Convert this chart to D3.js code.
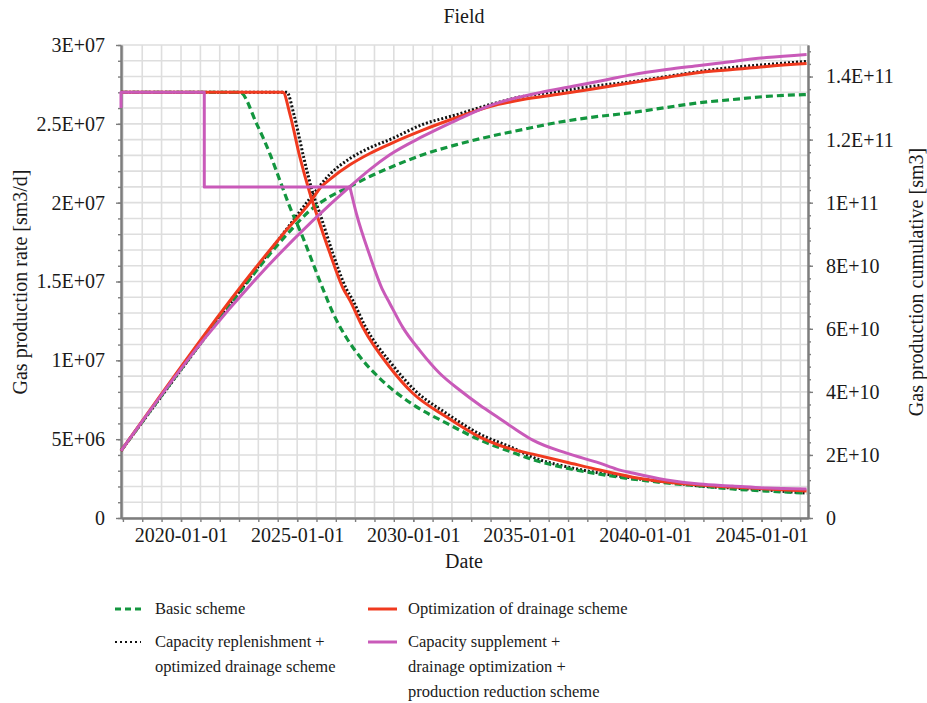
<!DOCTYPE html>
<html><head><meta charset="utf-8">
<script src="https://cdn.jsdelivr.net/npm/d3@7"></script>
<style>
body{margin:0;background:#fff;}
svg text{font-family:"Liberation Serif","Times New Roman",serif;fill:#1a1a1a;}
</style></head><body>
<svg id="chart" width="927" height="703"></svg>
<script>
// ---------- data ----------
const chartTitle = "Field";
const xDomain = ["2017-06-01", "2047-01-01"];
const xTickDates = ["2020-01-01","2025-01-01","2030-01-01","2035-01-01","2040-01-01","2045-01-01"];
const xTickLabels = ["2020-01-01","2025-01-01","2030-01-01","2035-01-01","2040-01-01","2045-01-01"];
const leftTickValues = [0, 5e6, 1e7, 1.5e7, 2e7, 2.5e7, 3e7];
const leftTickLabels = ["0","5E+06","1E+07","1.5E+07","2E+07","2.5E+07","3E+07"];
const rightTickValues = [0, 2e10, 4e10, 6e10, 8e10, 1e11, 1.2e11, 1.4e11];
const rightTickLabels = ["0","2E+10","4E+10","6E+10","8E+10","1E+11","1.2E+11","1.4E+11"];

// gas production rate, unit 1E6 sm3/d
const basicRate = [["2017-06-01",27],["2022-07-15",27],["2023-04-05",25.0],["2023-10-30",23.1],["2024-04-05",21.4],["2024-09-10",19.7],["2025-04-01",17.8],["2025-10-10",15.8],["2026-03-15",14.2],["2026-07-30",12.9],["2027-02-20",11.4],["2027-10-30",10.0],["2028-07-22",8.86],["2029-12-25",7.2],["2031-06-15",6.0],["2032-11-15",4.95],["2034-04-15",4.15],["2035-02-25",3.7],["2036-08-10",3.16],["2038-01-12",2.78],["2039-06-15",2.47],["2040-11-28",2.22],["2042-04-30",2.03],["2043-10-01",1.84],["2045-03-20",1.71],["2046-12-10",1.58]];
const drainageRate = [["2017-06-01",27],["2024-05-22",27],["2024-09-10",25.6],["2025-02-15",22.85],["2025-07-20",20.6],["2025-11-01",19.3],["2026-05-30",16.8],["2026-12-20",14.6],["2027-04-10",13.8],["2027-10-30",12.1],["2028-12-28",9.56],["2029-12-25",7.91],["2031-06-15",6.39],["2032-11-15",5.13],["2033-09-25",4.6],["2034-04-15",4.35],["2035-02-25",4.05],["2036-08-10",3.54],["2038-01-12",3.04],["2039-06-15",2.59],["2040-11-28",2.28],["2042-04-30",2.09],["2043-10-01",1.96],["2045-03-20",1.84],["2046-12-10",1.71]];
const replenishRate = [["2017-06-01",27],["2024-07-22",27],["2024-11-10",25.6],["2025-04-15",22.85],["2025-09-05",20.6],["2025-12-25",19.3],["2026-07-15",16.8],["2027-02-05",14.6],["2027-05-27",13.8],["2027-12-01",12.2],["2029-01-30",9.75],["2030-01-26",8.1],["2031-06-28",6.58],["2032-11-15",5.32],["2034-04-15",4.45],["2035-02-25",3.85],["2036-08-10",3.25],["2038-01-12",2.85],["2039-06-15",2.53],["2040-11-28",2.28],["2042-04-30",2.03],["2043-10-01",1.9],["2045-03-20",1.77],["2046-12-10",1.58]];
const reductionRate = [["2017-06-01",26],["2017-06-01",27],["2021-01-01",27],["2021-01-01",21],["2027-04-10",21],["2027-07-22",19.3],["2028-02-17",16.65],["2028-09-10",14.43],["2028-12-28",13.61],["2029-07-20",12.09],["2030-04-12",10.63],["2031-02-20",9.18],["2032-01-05",8.1],["2032-11-15",7.15],["2033-09-25",6.3],["2034-06-18",5.57],["2035-02-25",4.94],["2036-08-10",4.11],["2038-01-12",3.48],["2038-10-05",3.1],["2039-06-15",2.85],["2040-11-28",2.41],["2042-04-30",2.15],["2043-10-01",2.03],["2045-03-20",1.9],["2046-12-10",1.84]];

// gas production cumulative, unit 1E10 sm3
const basicCum = [["2017-06-01",2.13],["2022-07-15",7.17],["2023-09-10",8.25],["2024-09-10",9.1],["2025-07-20",9.75],["2026-05-30",10.19],["2027-04-10",10.51],["2028-02-17",10.83],["2028-12-28",11.11],["2030-05-30",11.52],["2031-11-15",11.84],["2033-04-20",12.10],["2034-09-20",12.32],["2036-03-08",12.54],["2037-08-07",12.70],["2039-06-15",12.86],["2040-11-28",13.02],["2042-04-30",13.17],["2043-10-01",13.27],["2045-03-20",13.37],["2046-12-10",13.43]];
const drainageCum = [["2017-06-01",2.13],["2024-05-22",9.0],["2025-07-20",10.0],["2026-01-18",10.51],["2026-05-30",10.74],["2027-04-10",11.2],["2028-02-17",11.56],["2028-12-28",11.86],["2030-05-30",12.3],["2031-11-15",12.7],["2033-04-20",13.05],["2034-09-20",13.27],["2036-03-08",13.43],["2037-08-07",13.59],["2039-06-15",13.81],["2040-11-28",13.97],["2042-04-30",14.13],["2043-10-01",14.22],["2045-03-20",14.32],["2046-12-10",14.41]];
const replenishCum = [["2017-06-01",2.13],["2024-07-22",9.17],["2025-07-20",10.13],["2026-05-30",10.9],["2027-04-10",11.4],["2028-02-17",11.74],["2028-12-28",12.0],["2030-05-30",12.48],["2031-11-15",12.79],["2033-04-20",13.11],["2034-09-20",13.37],["2036-03-08",13.52],["2037-08-07",13.68],["2039-06-15",13.84],["2040-11-28",14.0],["2042-04-30",14.16],["2043-10-01",14.29],["2045-03-20",14.38],["2046-12-10",14.48]];
const reductionCum = [["2017-06-01",2.13],["2021-01-01",5.68],["2027-04-10",10.51],["2028-02-17",11.05],["2028-12-28",11.52],["2030-05-30",12.1],["2031-11-15",12.62],["2033-04-20",13.08],["2035-06-15",13.49],["2036-11-15",13.69],["2038-05-01",13.9],["2039-06-15",14.06],["2040-11-28",14.22],["2042-04-30",14.35],["2043-10-01",14.48],["2045-03-20",14.6],["2046-12-10",14.7]];

// ---------- drawing ----------
const parse = d3.timeParse("%Y-%m-%d");
const svg = d3.select("#chart");
const L = 121, R = 808, T = 45, B = 518;
const x = d3.scaleTime().domain(xDomain.map(parse)).range([L, R]);
const yL = d3.scaleLinear().domain([0, 3e7]).range([B, T]);
const yR = d3.scaleLinear().domain([0, 1.5e11]).range([B, T]);
const RATE_UNIT = 1e6, CUM_UNIT = 1e10;

// grid
const hGrid = d3.range(0, 31).map(i => i * 1e6);
const start = parse("2020-01-01");
const vGrid = d3.range(-4, 34).map(k => d3.timeMonth.offset(start, 10 * k))
  .filter(d => d >= x.domain()[0] && d <= x.domain()[1]);
const g = svg.append("g");
g.selectAll(".hg").data(hGrid).join("line")
  .attr("x1", L).attr("x2", R).attr("y1", d => yL(d)).attr("y2", d => yL(d))
  .attr("stroke", "#dedede").attr("stroke-width", 1.6);
g.selectAll(".vg").data(vGrid).join("line")
  .attr("x1", d => x(d)).attr("x2", d => x(d)).attr("y1", T).attr("y2", B)
  .attr("stroke", "#dedede").attr("stroke-width", 1.6);

// axes
const axisColor = "#7d7d7d";
function styleAxis(sel) {
  sel.attr("font-family", null);
  sel.selectAll(".domain").attr("stroke", axisColor).attr("stroke-width", 2);
  sel.selectAll(".tick line").attr("stroke", axisColor).attr("stroke-width", 1.4);
  sel.selectAll("text").attr("font-size", 20).attr("fill", "#1a1a1a");
}
svg.append("g").attr("transform", `translate(${L},0)`)
  .call(d3.axisLeft(yL).tickValues(hGrid).tickSize(3).tickFormat("").tickSizeOuter(0)).call(styleAxis);
svg.append("g").attr("transform", `translate(${L},0)`)
  .call(d3.axisLeft(yL).tickValues(leftTickValues).tickSize(5).tickPadding(11).tickSizeOuter(0)
    .tickFormat((d, i) => leftTickLabels[i])).call(styleAxis);
svg.append("g").attr("transform", `translate(${R},0)`)
  .call(d3.axisRight(yR).tickValues(d3.range(0, 38).map(i => i * 4e9)).tickSize(3).tickFormat("").tickSizeOuter(0)).call(styleAxis);
svg.append("g").attr("transform", `translate(${R},0)`)
  .call(d3.axisRight(yR).tickValues(rightTickValues).tickSize(5).tickPadding(13).tickSizeOuter(0)
    .tickFormat((d, i) => rightTickLabels[i])).call(styleAxis);
svg.append("g").attr("transform", `translate(0,${B})`)
  .call(d3.axisBottom(x).tickValues(vGrid).tickSize(4).tickFormat("").tickSizeOuter(0)).call(styleAxis);
svg.append("g").attr("transform", `translate(0,${B})`)
  .call(d3.axisBottom(x).tickValues(xTickDates.map(parse)).tickSize(4).tickPadding(6).tickSizeOuter(0)
    .tickFormat((d, i) => xTickLabels[i])).call(styleAxis);

// titles
svg.append("text").attr("x", 464).attr("y", 23).attr("text-anchor", "middle").attr("font-size", 20).text(chartTitle);
svg.append("text").attr("x", 464).attr("y", 568).attr("text-anchor", "middle").attr("font-size", 20).text("Date");
svg.append("text").attr("transform", "translate(27,282) rotate(-90)").attr("text-anchor", "middle").attr("font-size", 20)
  .text("Gas production rate [sm3/d]");
svg.append("text").attr("transform", "translate(923,282) rotate(-90)").attr("text-anchor", "middle").attr("font-size", 20)
  .text("Gas production cumulative [sm3]");

// series
const styles = {
  basic: {color: "#13963f", dash: "7,4", width: 3.2},
  drainage: {color: "#f03a1f", dash: null, width: 3},
  replenish: {color: "#111111", dash: "2,2", width: 3},
  reduction: {color: "#c95ab9", dash: null, width: 3}
};
const rateLine = (curve) => d3.line().x(d => x(parse(d[0]))).y(d => yL(d[1] * RATE_UNIT)).curve(curve);
const cumLine = d3.line().x(d => x(parse(d[0]))).y(d => yR(d[1] * CUM_UNIT)).curve(d3.curveMonotoneX);
// split a series where dates repeat (vertical steps) into linear + smooth parts
function pathFor(data) {
  let lastDup = -1;
  for (let i = 1; i < data.length; i++) if (data[i][0] === data[i - 1][0]) lastDup = i;
  if (lastDup < 0) return rateLine(d3.curveMonotoneX)(data);
  const stepEnd = lastDup + 1;
  return rateLine(d3.curveLinear)(data.slice(0, stepEnd + 1)) + rateLine(d3.curveMonotoneX)(data.slice(stepEnd)).replace(/^M/, "L");
}
const layers = [
  ["replenish", replenishRate, replenishCum],
  ["basic", basicRate, basicCum],
  ["drainage", drainageRate, drainageCum],
  ["reduction", reductionRate, reductionCum]
];
const lg = svg.append("g");
layers.forEach(([key, rate, cum]) => {
  const s = styles[key];
  [pathFor(rate), cumLine(cum)].forEach(d => {
    lg.append("path").attr("d", d).attr("fill", "none")
      .attr("stroke", s.color).attr("stroke-width", s.width)
      .attr("stroke-dasharray", s.dash).attr("stroke-linejoin", "round");
  });
});

// legend
const legendItems = [
  {key: "basic", x: 115, y: 609, lines: ["Basic scheme"]},
  {key: "drainage", x: 368, y: 609, lines: ["Optimization of drainage scheme"]},
  {key: "replenish", x: 115, y: 642, lines: ["Capacity replenishment +", "optimized drainage scheme"]},
  {key: "reduction", x: 368, y: 642, lines: ["Capacity supplement +", "drainage optimization +", "production reduction scheme"]}
];
const leg = svg.append("g");
legendItems.forEach(it => {
  const s = styles[it.key];
  const short = it.key === "basic" || it.key === "replenish";
  leg.append("line").attr("x1", it.x).attr("x2", it.x + (short ? 26 : 29))
    .attr("y1", it.y).attr("y2", it.y).attr("stroke", s.color)
    .attr("stroke-width", it.key === "replenish" ? 2 : 3)
    .attr("stroke-dasharray", it.key === "basic" ? "6,4" : (it.key === "replenish" ? "2,3" : null));
  const t = leg.append("text").attr("y", it.y + 4.5).attr("font-size", 16.5);
  it.lines.forEach((ln, i) => {
    t.append("tspan").attr("x", it.x + 40).attr("dy", i === 0 ? 0 : 25).text(ln);
  });
});
</script>
</body></html>
